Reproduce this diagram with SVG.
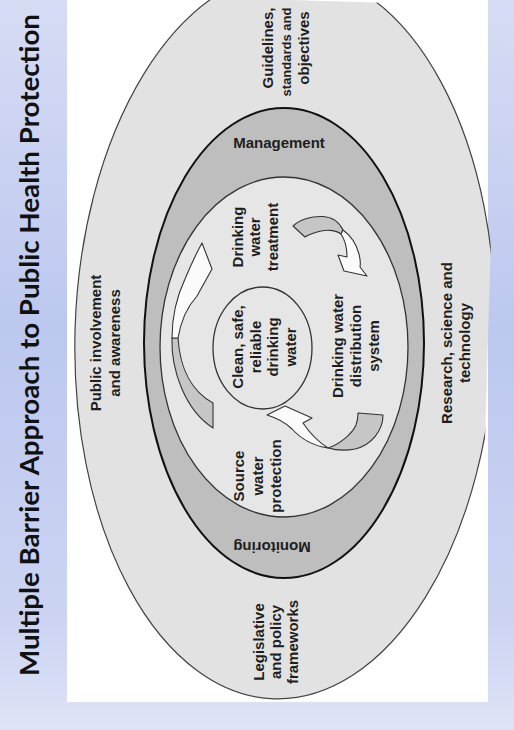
<svg xmlns="http://www.w3.org/2000/svg" width="514" height="730" viewBox="0 0 514 730">
<defs>
<linearGradient id="bg" x1="0" y1="0" x2="0" y2="1">
<stop offset="0" stop-color="#d6dcf4"/>
<stop offset="0.45" stop-color="#bdc8ef"/>
<stop offset="0.85" stop-color="#ccd4f2"/>
<stop offset="1" stop-color="#dfe3f6"/>
</linearGradient>
<clipPath id="clip"><rect x="67" y="0" width="421" height="702"/></clipPath>
<style>
.lbl{font-family:"Liberation Sans",Arial,sans-serif;font-weight:bold;font-size:15px;fill:#1e1e1e;text-anchor:middle}
.title{font-family:Lato,"Open Sans",sans-serif;font-weight:bold;font-size:26px;fill:#111;text-anchor:middle}
.ring{stroke:#333;stroke-width:1.3}
.aw{fill:#fbfbfb;stroke:#333;stroke-width:1.1;stroke-linejoin:round}
.ag{fill:#c6c6c6;stroke:#333;stroke-width:1.1;stroke-linejoin:round}
</style>
</defs>
<rect width="514" height="730" fill="url(#bg)"/>
<g id="title">
<text class="title" transform="translate(0,345) rotate(-90)" x="0" y="39" textLength="662" lengthAdjust="spacingAndGlyphs">Multiple Barrier Approach to Public Health Protection</text>
</g>
<rect x="67" y="0" width="421" height="702" fill="#ffffff"/>
<g id="outer-ring">
<ellipse cx="285" cy="335" rx="210" ry="364" transform="rotate(1.7 285 335)" fill="#e2e2e2" stroke="#444" stroke-width="1.2" clip-path="url(#clip)"/>
<text class="lbl" transform="translate(0,48) rotate(-90)"><tspan x="0" y="273">Guidelines,</tspan><tspan x="0" y="309">objectives</tspan></text>
<text class="lbl" transform="translate(0,52) rotate(-90)" x="0" y="291" style="font-size:13px">standards and</text>
<text class="lbl" transform="translate(0,343) rotate(-90)"><tspan x="0" y="101">Public involvement</tspan><tspan x="0" y="120">and awareness</tspan></text>
<text class="lbl" transform="translate(0,343) rotate(-90)"><tspan x="0" y="452">Research, science and</tspan><tspan x="0" y="470">technology</tspan></text>
<text class="lbl" transform="translate(0,642) rotate(-90)"><tspan x="0" y="264">Legislative</tspan><tspan x="0" y="281">and policy</tspan><tspan x="0" y="298">frameworks</tspan></text>
</g>
<g id="management-ring">
<ellipse cx="284" cy="343" rx="140" ry="235" fill="#bebebe" stroke="#111" stroke-width="2"/>
<text class="lbl" x="279" y="148">Management</text>
<text class="lbl" transform="translate(272,541.5) rotate(180)" x="0" y="0">Monitoring</text>
</g>
<g id="inner-ring">
<ellipse class="ring" cx="284" cy="347" rx="124" ry="170" fill="#e6e6e6"/>
</g>
<g id="center">
<ellipse class="ring" cx="262.5" cy="348" rx="49.5" ry="61" fill="#e6e6e6"/>
<text class="lbl" transform="translate(0,347) rotate(-90)"><tspan x="0" y="243">Clean, safe,</tspan><tspan x="0" y="261">reliable</tspan><tspan x="0" y="278">drinking</tspan><tspan x="0" y="296">water</tspan></text>
</g>
<g id="connectors">
<path class="ag" d="M172,338 C171,370 185,410 213,428 L213,403 C193,392 180,370 178,338 Z"/>
<path class="aw" d="M202,243 L212,269 L197,296 C188,306 181,320 178,338 L172,338 C172,318 177,296 185,279 C190,267 196,254 202,243 Z"/>
<path class="ag" d="M293,226 C300,219 312,216 323,216.5 C332,217 339,222 343,230 L341,234 C336,230 326,229 317,232 C312,233.5 308,235 305,237 Z"/>
<path class="aw" d="M343,230 C350,235 356,243 359,254 C361,262 360,267 360,267 L367,276 L344,271 L338,255 L347,257 C347,250 345,240 341,234 Z"/>
<path class="ag" d="M358,413 L383,415 C383,430 372,445 355,449 C345,451 335,450 328,448 C340,444 352,434 356,425 C358,420 358,416 358,413 Z"/>
<path class="aw" d="M267,415 L285,406 L312,418 L303,423 C309,432 317,441 328,448 C315,446 302,440 292,429 C287,424 280,419 267,415 Z"/>
</g>
<g id="treatment">
<text class="lbl" transform="translate(0,237) rotate(-90)"><tspan x="0" y="242.5">Drinking</tspan><tspan x="0" y="260">water</tspan><tspan x="0" y="277.5">treatment</tspan></text>
</g>
<g id="distribution">
<text class="lbl" transform="translate(0,346) rotate(-90)"><tspan x="0" y="343">Drinking water</tspan><tspan x="0" y="361">distribution</tspan><tspan x="0" y="379">system</tspan></text>
</g>
<g id="source">
<text class="lbl" transform="translate(0,476) rotate(-90)"><tspan x="0" y="244">Source</tspan><tspan x="0" y="262.5">water</tspan><tspan x="0" y="281">protection</tspan></text>
</g>
</svg>
